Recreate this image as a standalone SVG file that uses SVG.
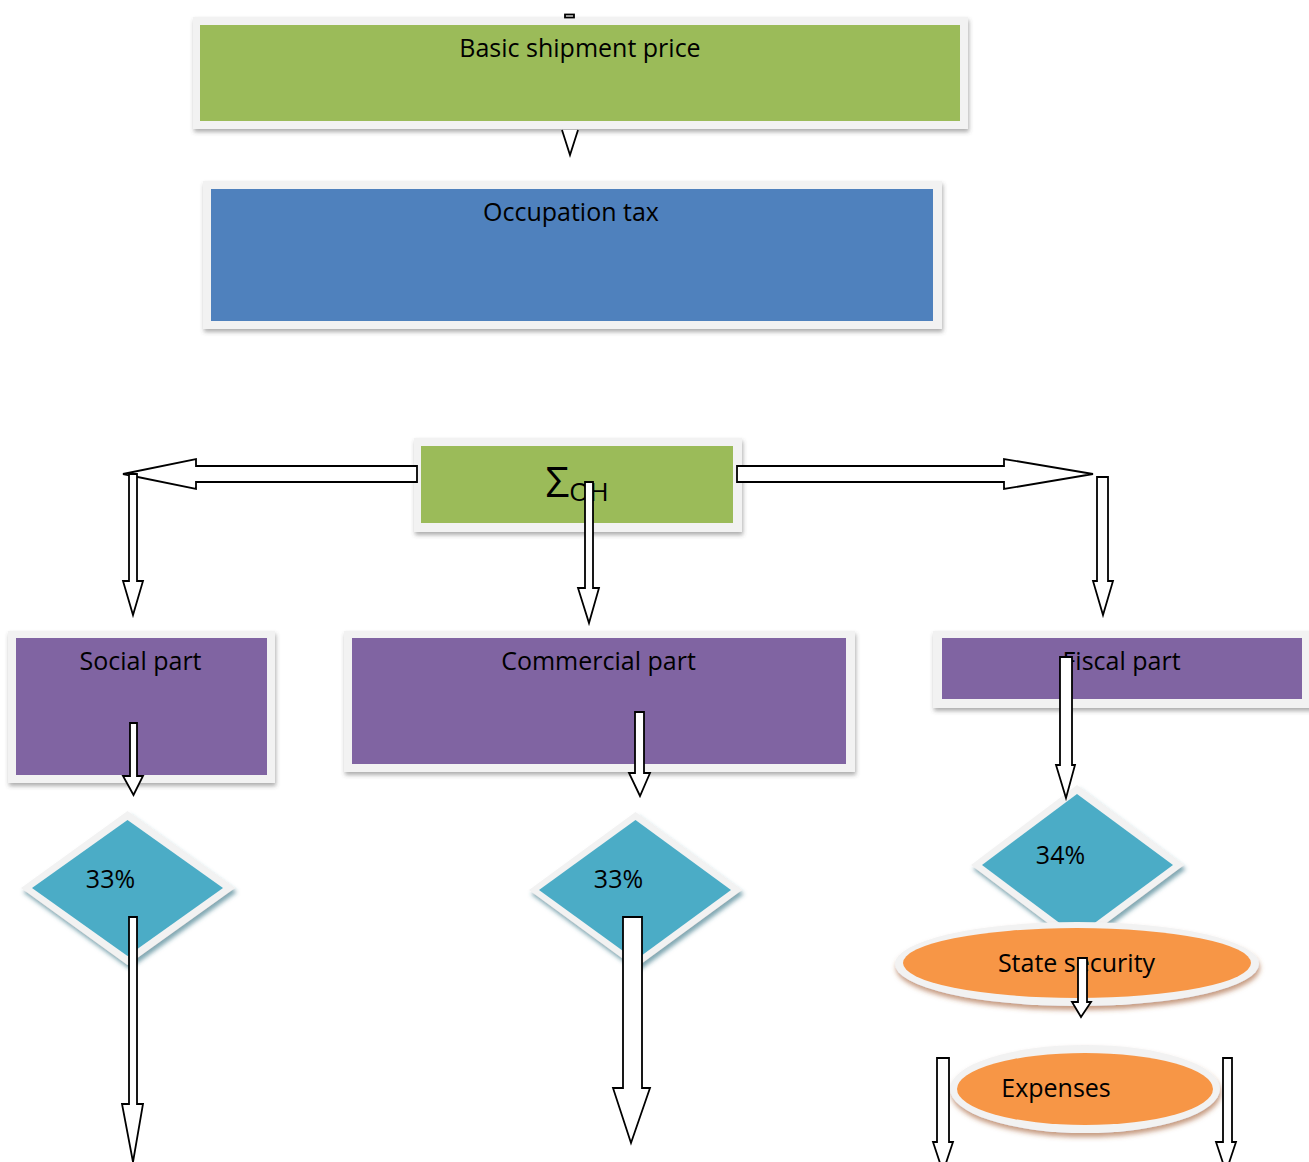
<svg xmlns="http://www.w3.org/2000/svg" width="1309" height="1162" viewBox="0 0 1309 1162">
<style>
text{font-family:"Open Sans","Noto Sans","Liberation Sans",sans-serif;font-size:25px;fill:#000;text-anchor:middle}
.frame{fill:#f2f2f2}
.green{fill:#9bbb59}.blue{fill:#4f81bd}.purple{fill:#8064a2}.teal{fill:#4bacc6}.orange{fill:#f79646}
.arr{fill:#fff;stroke:#000;stroke-width:1.8;stroke-linejoin:miter}
</style>
<defs>
<filter id="sh" x="-10%" y="-10%" width="120%" height="130%"><feDropShadow dx="1" dy="3" stdDeviation="2" flood-color="#4a4a4a" flood-opacity="0.45"/></filter>
<filter id="shT" x="-10%" y="-10%" width="120%" height="130%"><feDropShadow dx="2" dy="4" stdDeviation="2" flood-color="#2a6e80" flood-opacity="0.6"/></filter>
<filter id="shO" x="-10%" y="-10%" width="120%" height="140%"><feDropShadow dx="1" dy="4" stdDeviation="2.5" flood-color="#a0582a" flood-opacity="0.6"/></filter>
</defs>

<g id="node-basic">
<rect class="frame" x="193" y="17" width="775" height="112" filter="url(#sh)"/>
<rect class="green" x="200" y="25" width="760" height="96"/>
<text x="580" y="57">Basic shipment price</text>
</g>

<g id="node-occupation">
<rect class="frame" x="203" y="181" width="739" height="148" filter="url(#sh)"/>
<rect class="blue" x="211" y="189" width="722" height="132"/>
<text x="571" y="221">Occupation tax</text>
</g>

<g id="node-sum">
<rect class="frame" x="414" y="438" width="328" height="94" filter="url(#sh)"/>
<rect class="green" x="421" y="446" width="312" height="77"/>
<text x="577" y="497" style="font-size:42px">Σ<tspan style="font-size:26px" dy="4">OH</tspan></text>
</g>

<g id="node-social">
<rect class="frame" x="8" y="631" width="267" height="152" filter="url(#sh)"/>
<rect class="purple" x="16" y="638" width="251" height="137"/>
<text x="140.5" y="670">Social part</text>
</g>

<g id="node-commercial">
<rect class="frame" x="344" y="631" width="511" height="141" filter="url(#sh)"/>
<rect class="purple" x="352" y="638" width="494" height="126"/>
<text x="598.5" y="670">Commercial part</text>
</g>

<g id="node-fiscal">
<rect class="frame" x="933" y="631" width="386" height="77" filter="url(#sh)"/>
<rect class="purple" x="942" y="638" width="360" height="61"/>
<text x="1121.5" y="670">Fiscal part</text>
</g>

<g id="node-social-pct">
<polygon class="frame" points="127.5,811 235,888 127.5,965 21,888" filter="url(#shT)"/>
<polygon class="teal" points="127.5,820 223,888 127.5,956 32,888"/>
<text x="110.5" y="888">33%</text>
</g>

<g id="node-commercial-pct">
<polygon class="frame" points="635.5,812 742,890 635.5,968 529,890" filter="url(#shT)"/>
<polygon class="teal" points="635.5,820 731,890 635.5,960 539,890"/>
<text x="618.5" y="888">33%</text>
</g>

<g id="node-fiscal-pct">
<polygon class="frame" points="1077,785 1184,865 1077,945 971,865" filter="url(#shT)"/>
<polygon class="teal" points="1077,794 1173,865 1077,936 982,865"/>
<text x="1060.5" y="864">34%</text>
</g>

<g id="node-state-security">
<ellipse class="frame" cx="1077" cy="964" rx="182" ry="42" filter="url(#shO)"/>
<ellipse class="orange" cx="1077" cy="963" rx="174" ry="35"/>
<text x="1076.5" y="972">State security</text>
</g>

<g id="node-expenses">
<ellipse class="frame" cx="1085" cy="1089" rx="135" ry="44" filter="url(#shO)"/>
<ellipse class="orange" cx="1085" cy="1089" rx="128" ry="36"/>
<text x="1056" y="1097">Expenses</text>
</g>

<g id="connectors">
<rect class="arr" x="565" y="14.5" width="9" height="3"/>
<path class="arr" d="M562,130 L570,155 L578,130"/>
<polygon class="arr" points="417,466 196,466 196,459 123,474 196,489 196,482 417,482"/>
<polygon class="arr" points="129,474 137,474 137,581 143,581 133,615 123,581 129,581"/>
<polygon class="arr" points="737,466 1004,466 1004,459 1093,474 1004,489 1004,482 737,482"/>
<polygon class="arr" points="1097,477 1108,477 1108,581 1113,581 1103,615 1093,581 1097,581"/>
<polygon class="arr" points="585,482 593,482 593,588 599,588 589,623 578,588 585,588"/>
<polygon class="arr" points="130,723 137,723 137,776 143,776 133.5,795 123,776 130,776"/>
<polygon class="arr" points="129,917 137,917 137,1104 143,1104 133,1162 122,1104 129,1104"/>
<polygon class="arr" points="635,712 644,712 644,773 650,773 640,796 629,773 635,773"/>
<polygon class="arr" points="623,917 642,917 642,1088 650,1088 631,1143 613,1088 623,1088"/>
<polygon class="arr" points="1060,657 1072,657 1072,765 1075,765 1066,798 1056,765 1060,765"/>
<polygon class="arr" points="1078,958 1087,958 1087,1002 1091,1002 1081,1017 1072,1002 1078,1002"/>
<polygon class="arr" points="937,1058 949,1058 949,1142 953,1142 943,1172 933,1142 937,1142"/>
<polygon class="arr" points="1223,1058 1232,1058 1232,1142 1236,1142 1226,1172 1216,1142 1223,1142"/>
</g>
</svg>
